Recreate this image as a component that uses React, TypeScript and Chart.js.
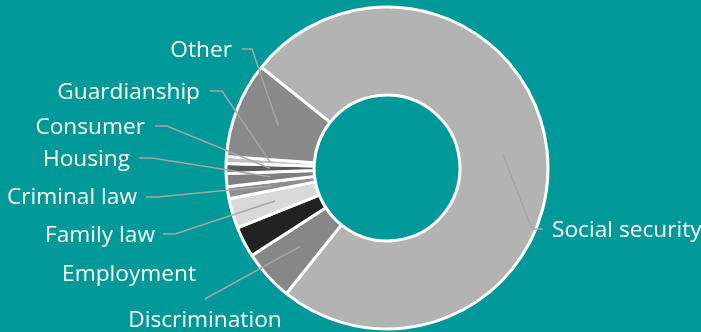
import React, { useEffect, useRef } from "react";
import { Chart, registerables } from "chart.js";

Chart.register(...registerables);

const categories = [
  "Social security",
  "Discrimination",
  "Employment",
  "Family law",
  "Criminal law",
  "Housing",
  "Consumer",
  "Guardianship",
  "Other",
];
const shares = [75.0, 5.1, 3.1, 3.0, 1.2, 1.3, 1.0, 0.7, 9.6];
const sliceColors = [
  "#b3b3b3",
  "#878787",
  "#222222",
  "#d9d9d9",
  "#8f8f8f",
  "#7f7f7f",
  "#595959",
  "#bfbfbf",
  "#8a8a8a",
];

// label layout: text anchor, alignment, leader elbow (null = no leader / no elbow)
type LabelLayout = {
  x: number;
  y: number;
  align: CanvasTextAlign;
  leader: boolean;
  elbow: [number, number, number] | null; // x1, x2, y  (horizontal segment from x1 to x2; diagonal from x2)
  start?: [number, number];
};
const labelLayout: LabelLayout[] = [
  { x: 552, y: 231, align: "left", leader: true, elbow: [543, 532, 229] },
  { x: 205, y: 321, align: "center", leader: true, elbow: null, start: [205, 299] },
  { x: 196, y: 274.5, align: "right", leader: false, elbow: null },
  { x: 155, y: 236, align: "right", leader: true, elbow: [163, 175, 234] },
  { x: 137, y: 197.5, align: "right", leader: true, elbow: [146, 157, 197] },
  { x: 130, y: 159.5, align: "right", leader: true, elbow: [139, 152, 158] },
  { x: 145, y: 127.5, align: "right", leader: true, elbow: [155, 167, 126] },
  { x: 200, y: 92.5, align: "right", leader: true, elbow: [210, 222, 91] },
  { x: 232, y: 50.5, align: "right", leader: true, elbow: [242, 252, 49] },
];

const labelPlugin = {
  id: "outerLabels",
  afterDatasetsDraw(chart: any) {
    const ctx = chart.ctx as CanvasRenderingContext2D;
    const meta = chart.getDatasetMeta(0);
    ctx.save();
    ctx.strokeStyle = "#a6a6a6";
    ctx.lineWidth = 1.5;
    meta.data.forEach((arc: any, i: number) => {
      const lay = labelLayout[i];
      if (!lay.leader) return;
      const p = arc.tooltipPosition(false);
      ctx.beginPath();
      if (lay.elbow) {
        ctx.moveTo(lay.elbow[0], lay.elbow[2]);
        ctx.lineTo(lay.elbow[1], lay.elbow[2]);
      } else if (lay.start) {
        ctx.moveTo(lay.start[0], lay.start[1]);
      }
      ctx.lineTo(p.x, p.y);
      ctx.stroke();
    });
    ctx.fillStyle = "#ffffff";
    ctx.font = "22.7px 'Open Sans', sans-serif";
    ctx.textBaseline = "middle";
    categories.forEach((name, i) => {
      const lay = labelLayout[i];
      ctx.textAlign = lay.align;
      ctx.fillText(name, lay.x, lay.y);
    });
    ctx.restore();
  },
};

export default function App() {
  const ref = useRef<HTMLCanvasElement | null>(null);
  useEffect(() => {
    if (!ref.current) return;
    const chart = new Chart(ref.current, {
      type: "doughnut",
      data: {
        labels: categories,
        datasets: [
          {
            data: shares,
            backgroundColor: sliceColors,
            borderColor: "#ffffff",
            borderWidth: 3,
            radius: 161,
          } as any,
        ],
      },
      options: {
        responsive: false,
        animation: false,
        rotation: -51.3,
        cutout: "45.3%",
        layout: { padding: { left: 73, right: 0, top: 4, bottom: 0 } },
        plugins: {
          legend: { display: false },
          tooltip: { enabled: false },
        },
      },
      plugins: [labelPlugin],
    });
    return () => chart.destroy();
  }, []);
  return (
    <div
      style={{
        position: "fixed",
        left: 0,
        top: 0,
        width: 701,
        height: 332,
        background: "#009999",
        overflow: "hidden",
      }}
    >
      <canvas ref={ref} width={701} height={332} style={{ display: "block" }} />
    </div>
  );
}
